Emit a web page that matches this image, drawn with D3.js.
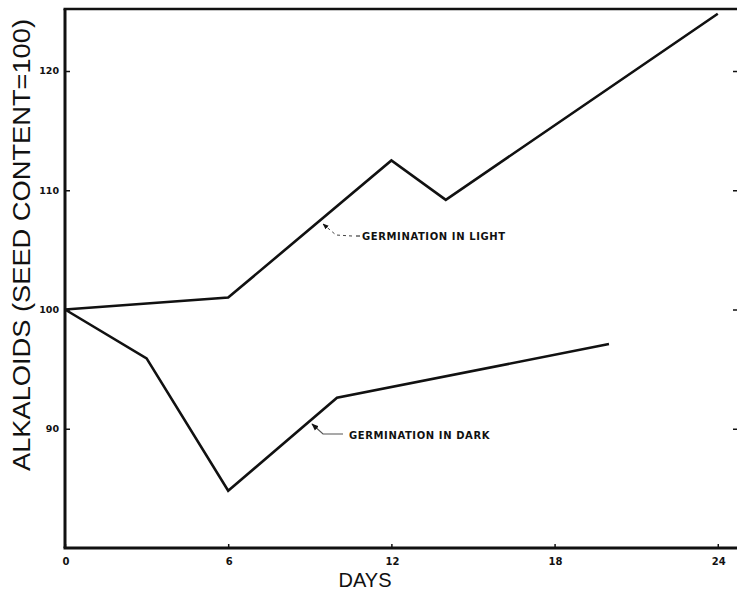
<!DOCTYPE html>
<html><head><meta charset="utf-8">
<script src="https://cdn.jsdelivr.net/npm/d3@7"></script>
<style>body{margin:0;background:#fff}svg{display:block}</style>
</head><body>
<script>
const lightDays = [0, 6, 12, 14, 24];
const lightValues = [100, 101.0, 112.5, 109.2, 124.8];
const darkDays = [0, 3, 6, 10, 20];
const darkValues = [100, 95.9, 84.8, 92.6, 97.1];
const xTicks = [0, 6, 12, 18, 24];
const yTicks = [90, 100, 110, 120];
const yTickLabels = ["90", "100", "110", "120"];
const xTitle = "DAYS";
const yTitle = "ALKALOIDS (SEED CONTENT=100)";
const lightLabel = "GERMINATION IN LIGHT";
const darkLabel = "GERMINATION IN DARK";

const W = 737, H = 591;
const svg = d3.select("body").append("svg").attr("width", W).attr("height", H);
const x = d3.scaleLinear().domain([0, 24.67]).range([65, 736]);
const y = d3.scaleLinear().domain([80, 125.2]).range([548, 9]);
const ink = "#111";

// frame: left, bottom, top
svg.append("line").attr("x1", x(0)).attr("x2", x(0)).attr("y1", y(125.2)).attr("y2", y(80)).attr("stroke", ink).attr("stroke-width", 3);
svg.append("line").attr("x1", x(0) - 1.5).attr("x2", 737).attr("y1", y(80)).attr("y2", y(80)).attr("stroke", ink).attr("stroke-width", 3);
svg.append("line").attr("x1", x(0) - 1.5).attr("x2", 737).attr("y1", y(125.2)).attr("y2", y(125.2)).attr("stroke", ink).attr("stroke-width", 2.5);

// left axis via d3
const yAxis = d3.axisRight(y).tickValues(yTicks).tickSize(5).tickFormat("");
svg.append("g").attr("transform", `translate(${x(0)},0)`).call(yAxis)
  .call(g => { g.select(".domain").remove(); g.selectAll("line").attr("stroke", ink).attr("stroke-width", 1.5); });
yTicks.forEach((t, i) => {
  svg.append("text").attr("x", x(0) - 6).attr("y", y(t)).attr("dy", "0.35em")
    .attr("text-anchor", "end").attr("font-family", "DejaVu Sans").attr("font-weight", "bold")
    .attr("font-size", 9.5).attr("fill", ink).text(yTickLabels[i]);
});
// right-side ticks
const yAxisR = d3.axisLeft(y).tickValues(yTicks).tickSize(4).tickFormat("");
svg.append("g").attr("transform", `translate(737,0)`).call(yAxisR)
  .call(g => { g.select(".domain").remove(); g.selectAll("line").attr("stroke", ink).attr("stroke-width", 1.5); });

// bottom axis
const xAxis = d3.axisTop(x).tickValues(xTicks).tickSize(4).tickFormat("");
svg.append("g").attr("transform", `translate(0,${y(80)})`).call(xAxis)
  .call(g => { g.select(".domain").remove(); g.selectAll("line").attr("stroke", ink).attr("stroke-width", 1.5); });
xTicks.forEach(t => {
  svg.append("text").attr("x", x(t) + 1).attr("y", 565)
    .attr("text-anchor", "middle").attr("font-family", "DejaVu Sans").attr("font-weight", "bold")
    .attr("font-size", 10).attr("fill", ink).text(String(t));
});

// titles
svg.append("text").attr("x", 365).attr("y", 587).attr("text-anchor", "middle")
  .attr("font-family", "Liberation Sans").attr("font-size", 20).attr("fill", ink).text(xTitle);
svg.append("text").attr("transform", "translate(30,245) rotate(-90)").attr("text-anchor", "middle")
  .attr("font-family", "Liberation Sans").attr("font-size", 23).attr("fill", ink)
  .attr("textLength", 452).attr("lengthAdjust", "spacingAndGlyphs").text(yTitle);

// lines
const line = d3.line().x(d => x(d[0])).y(d => y(d[1]));
svg.append("path").datum(lightDays.map((d, i) => [d, lightValues[i]]))
  .attr("d", line).attr("fill", "none").attr("stroke", ink).attr("stroke-width", 2.6).attr("stroke-linejoin", "miter");
svg.append("path").datum(darkDays.map((d, i) => [d, darkValues[i]]))
  .attr("d", line).attr("fill", "none").attr("stroke", ink).attr("stroke-width", 2.6).attr("stroke-linejoin", "miter");

// annotations
svg.append("defs").append("marker").attr("id", "ah").attr("viewBox", "0 0 10 10").attr("refX", 9).attr("refY", 5)
  .attr("markerWidth", 6).attr("markerHeight", 6).attr("orient", "auto")
  .append("path").attr("d", "M0,1 L10,5 L0,9 z").attr("fill", ink);
svg.append("path").attr("d", "M352,236 L336,235 L323,224").attr("fill", "none").attr("stroke", "#444")
  .attr("stroke-width", 1).attr("stroke-dasharray", "3,3").attr("marker-end", "url(#ah)");
svg.append("line").attr("x1", 356).attr("x2", 360).attr("y1", 236).attr("y2", 236).attr("stroke", ink).attr("stroke-width", 1);
svg.append("text").attr("x", 362).attr("y", 240).attr("font-family", "DejaVu Sans").attr("font-weight", "bold")
  .attr("font-size", 10).attr("letter-spacing", 0.6).attr("fill", ink).text(lightLabel);
svg.append("path").attr("d", "M343,434 L323,434 L312,424").attr("fill", "none").attr("stroke", "#555")
  .attr("stroke-width", 1.2).attr("marker-end", "url(#ah)");
svg.append("text").attr("x", 349).attr("y", 439).attr("font-family", "DejaVu Sans").attr("font-weight", "bold")
  .attr("font-size", 10).attr("letter-spacing", 0.6).attr("fill", ink).text(darkLabel);
</script>
</body></html>
